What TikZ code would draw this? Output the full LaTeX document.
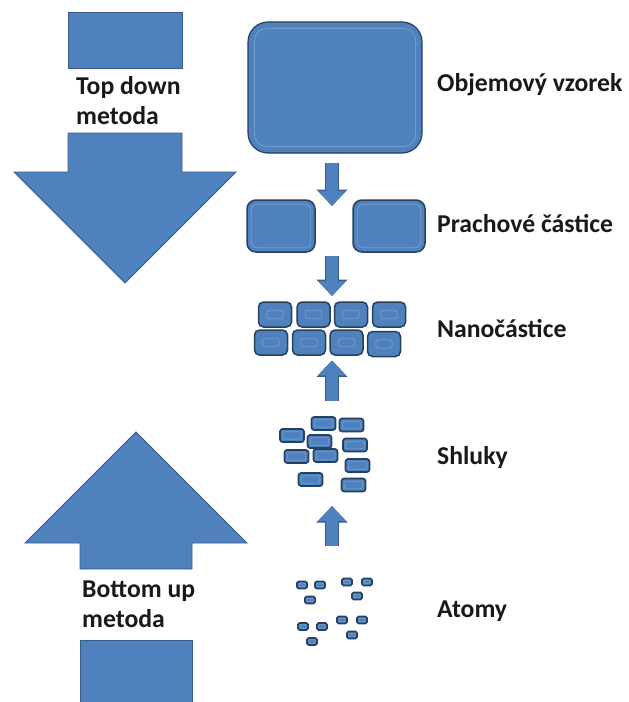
\documentclass[tikz,border=0pt]{standalone}
\usepackage{fontspec}
\setmainfont{Carlito}
\usetikzlibrary{arrows.meta,positioning,fit}
\definecolor{nfill}{RGB}{79,129,189}
\definecolor{nedge}{RGB}{56,93,138}
\definecolor{nlight}{RGB}{112,158,210}
\definecolor{ndark}{RGB}{37,64,97}
\tikzset{
  chip/.style={draw=ndark, fill=nfill, line width=1.2bp, inner sep=0pt},
  chipin/.style={draw=nlight, line width=0.8bp},
  flowarrow/.style={draw=nfill, line width=12bp, -{Triangle[length=15bp,width=27bp]},
    preaction={draw=nedge, line width=14bp, -{Triangle[length=16.5bp,width=30bp]}}},
  bigarrow/.style={fill=nfill, draw=nedge, line width=0.8bp, line join=miter},
  lbl/.style={font=\fontsize{25.8}{30}\selectfont\bfseries, text=black!90, anchor=base west, inner sep=0pt},
  sidetext/.style={font=\fontsize{25.8}{30}\selectfont\bfseries, text=black!90, align=left, anchor=north west, inner sep=0pt},
}
% bevelled block: [style]{name}{(centre)}{width}{height}{inset}{radius}
\newcommand{\chip}[7][]{%
  \node[chip, minimum width=#4bp, minimum height=#5bp, rounded corners=#7bp, #1] (#2) at #3 {};
  \draw[chipin, rounded corners=0.6*#7bp] ([shift={(#6bp,-#6bp)}]#2.north west) rectangle ([shift={(-#6bp,#6bp)}]#2.south east);
}

\begin{document}
\begin{tikzpicture}[x=1bp, y=-1bp]
  \useasboundingbox (0,0) rectangle (629,702);

  % Top down arrow (split around its text)
  \filldraw[bigarrow] (68,12) rectangle (182,68);
  \filldraw[bigarrow] (68,133) -- (68,172) -- (14,172) -- (125,283) -- (236,172)
    -- (182,172) -- (182,133) -- cycle;
  \node[sidetext] (tdtext) at (76,76) {Top down\\metoda};

  % Bottom up arrow
  \filldraw[bigarrow] (80,569) -- (80,543) -- (25,543) -- (136,432) -- (247,543)
    -- (192,543) -- (192,569) -- cycle;
  \filldraw[bigarrow] (80,640) rectangle (192,703);
  \node[sidetext] (butext) at (82,581) {Bottom up\\metoda};

  % Bulk sample
  \chip{bulk}{(335,87.5)}{174}{131}{7}{20}

  % Dust particles
  \chip[line width=1.5bp]{dustL}{(281,226)}{68}{52}{5}{9}
  \chip[line width=1.5bp]{dustR}{(389,226)}{72}{52}{5}{9}
  \node[fit=(dustL)(dustR), inner sep=0pt] (dust) {};

  % Nanoparticles, two rows
  \foreach \x/\y [count=\i] in {275/314.5, 313.5/314.5, 351/314.5, 389/314.5,
      271/342.5, 309/342.5, 346.5/342.5, 384/344}
    {\chip[line width=1.5bp]{nano\i}{(\x,\y)}{33}{25}{9}{5}}
  \node[fit=(nano1)(nano4)(nano5)(nano8), inner sep=0pt] (nano) {};

  % Clusters
  \foreach \x/\y [count=\i] in {323.5/423.5, 351.5/425, 292/435.5, 319.5/441.5, 355/445,
      296.5/456.5, 325.5/455.5, 357.5/465.5, 310.5/479.5, 353.5/485}
    {\chip[line width=1.6bp]{cl\i}{(\x,\y)}{24}{13}{3.5}{2.5}}
  \node[fit=(cl1)(cl3)(cl9)(cl10)(cl8), inner sep=0pt] (cluster) {};

  % Atoms, four groups of three
  \foreach \x/\y [count=\i] in {302/585, 320/585, 310/600, 347/582, 367/582, 357/596,
      303/626.5, 322/626.5, 312/641.5, 342/620, 362/620, 352/635}
    {\chip[line width=1.6bp]{at\i}{(\x,\y)}{10}{7}{2.5}{1.5}}
  \node[fit=(at1)(at4)(at5)(at9), inner sep=0pt] (atoms) {};

  % Flow arrows
  \coordinate (axis) at (332,0);
  \draw[flowarrow, shorten <=9bp, shorten >=-7bp] (axis |- bulk.south) -- (axis |- dust.north);
  \draw[flowarrow, shorten <=3bp, shorten >=5bp] (axis |- dust.south) -- (axis |- nano.north);
  \draw[flowarrow, shorten <=15bp, shorten >=3bp] (axis |- cluster.north) -- (axis |- nano.south);
  \draw[flowarrow, shorten <=31.5bp, shorten >=13.5bp] (axis |- atoms.north) -- (axis |- cluster.south);

  % Labels
  \node[lbl] (lblbulk) at (437,92) {Objemový vzorek};
  \node[lbl] (lbldust) at (437,232) {Prachové částice};
  \node[lbl] (lblnano) at (437,337) {Nanočástice};
  \node[lbl] (lblcluster) at (437,464) {Shluky};
  \node[lbl] (lblatom) at (437,617) {Atomy};
\end{tikzpicture}
\end{document}
